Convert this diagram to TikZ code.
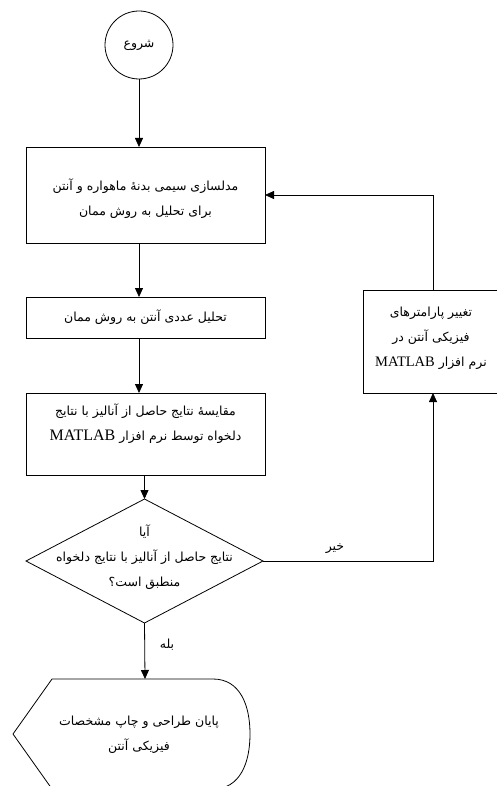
\documentclass[tikz,border=0pt]{standalone}
\usepackage{fontspec}
\usetikzlibrary{arrows.meta,shapes.geometric}
\TeXXeTstate=1
\newfontfamily\arabicfont[Script=Arabic]{DejaVu Sans}
\newfontfamily\latinfont{Liberation Serif}
\newcommand{\fa}[1]{{\arabicfont\beginR #1\endR}}
\newcommand{\mat}[1]{{\latinfont\fontsize{#1}{#1}\selectfont\beginL MATLAB\endL}}
\tikzset{
  every node/.style={inner sep=0pt, outer sep=0pt},
  boxn/.style={draw, line width=0.8pt, rectangle},
  txt/.style={align=center, font=\fontsize{12.5}{25}\selectfont},
  arr/.style={line width=0.8pt, -{Triangle[width=8pt,length=9pt]}},
  ln/.style={line width=0.8pt},
}
\begin{document}
\begin{tikzpicture}[x=1pt,y=-1pt]
\useasboundingbox (0,0) rectangle (496,786);
% start
\node[draw, circle, line width=0.8pt, minimum size=68pt] (start) at (139,45) {};
\node[txt] (startt) at (139,45) {\fa{شروع}};
% box1
\node[boxn, minimum width=239pt, minimum height=96pt] (box1) at (145.5,195) {};
\node[txt] (box1t) at (145.5,199) {\fa{مدلسازی سیمی بدنهٔ ماهواره و آنتن}\\\fa{برای تحلیل به روش ممان}};
% box2
\node[boxn, minimum width=239pt, minimum height=41pt] (box2) at (145.5,317.5) {};
\node[txt] (box2t) at (145.5,317) {\fa{تحلیل عددی آنتن به روش ممان}};
% box3
\node[boxn, minimum width=239pt, minimum height=82pt] (box3) at (145.5,434) {};
\node[txt] (box3t) at (145.5,424) {\fa{مقایسهٔ نتایج حاصل از آنالیز با نتایج}\\\fa{دلخواه توسط نرم افزار \mat{16}}};
% decision
\node[draw, diamond, line width=0.8pt, minimum width=237pt, minimum height=124pt] (dec) at (144.5,561) {};
\node[txt] (dect) at (144.5,557) {\fa{آیا}\\\fa{نتایج حاصل از آنالیز با نتایج دلخواه}\\\fa{منطبق است؟}};
% box4
\node[boxn, minimum width=136pt, minimum height=103pt] (box4) at (431,341.5) {};
\node[txt] (box4t) at (431,338) {\fa{تغییر پارامترهای}\\\fa{فیزیکی آنتن در}\\\fa{نرم افزار \mat{14.5}}};
% end shape
\coordinate (etop) at (145,679);
\draw[ln] (13,734) -- (52,679) -- (213,679) .. controls (240,679) and (250,705) .. (250,734)
  .. controls (250,763) and (240,789) .. (213,789) -- (52,789) -- cycle;
\node[txt] (endt) at (139,735) {\fa{پایان طراحی و چاپ مشخصات}\\\fa{فیزیکی آنتن}};
% connectors
\coordinate (lx) at (433,0);
\draw[arr] (start.south) -- (start.south |- box1.north);
\draw[arr] (box1.south -| start) -- (box2.north -| start);
\draw[arr] (box2.south -| start) -- (box3.north -| start);
\draw[arr] (box3.south -| dec) -- (dec.north);
\draw[arr] (dec.south) -- (etop);
\draw[arr] (dec.east) -| (lx |- box4.south);
\draw[arr] (lx |- box4.north) |- (box1.east);
\node[txt] (no) at (335,549) {\fa{خیر}};
\node[txt] (yes) at (167,645) {\fa{بله}};
\end{tikzpicture}
\end{document}
